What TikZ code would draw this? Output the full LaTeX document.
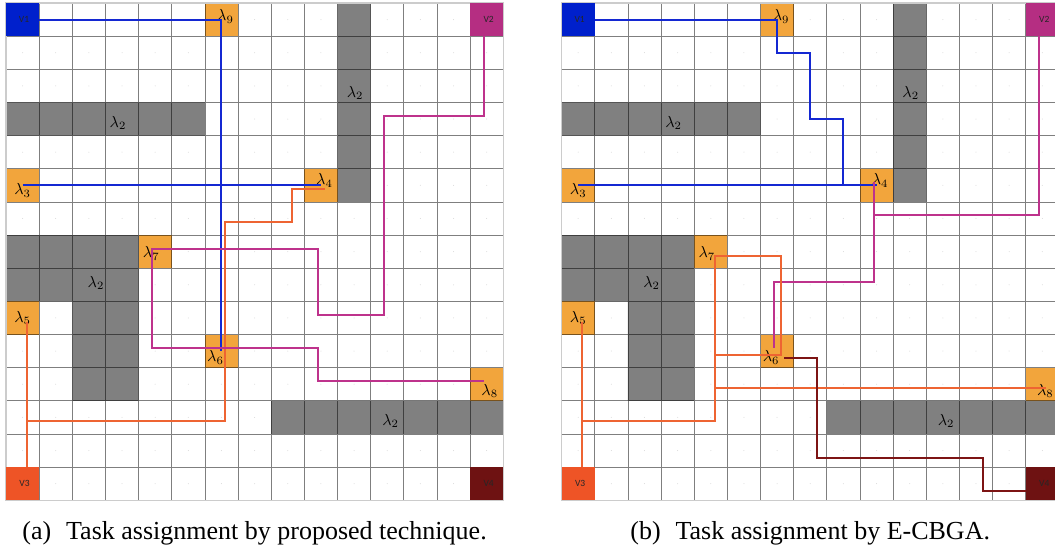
\documentclass[tikz,border=0pt]{standalone}
\usepackage{fontspec}
\newfontfamily\capfont{Liberation Serif}
\newfontfamily\vfont{Carlito}
\pgfdeclarelayer{back}
\pgfdeclarelayer{front}
\pgfsetlayers{back,main,front}

\definecolor{obst}{RGB}{128,128,128}
\definecolor{lamc}{RGB}{242,165,60}
\definecolor{vblue}{RGB}{0,32,204}
\definecolor{vmag}{RGB}{181,46,130}
\definecolor{vorg}{RGB}{238,84,38}
\definecolor{vdred}{RGB}{110,18,18}
\definecolor{pblue}{RGB}{20,40,210}
\definecolor{pmag}{RGB}{190,50,140}
\definecolor{porg}{RGB}{238,100,50}
\definecolor{pdred}{RGB}{125,20,20}

\newcommand\lam[1]{\scalebox{1.6}{$\lambda_{#1}$}}

\tikzset{
 obstacle/.style={fill=obst},
 gridline/.style={draw=black, draw opacity=0.5, line width=0.8pt},
 frameline/.style={draw=gray!40, line width=1.4pt},
 celldot/.style={fill=gray!30},
 lamcell/.style={fill=lamc, minimum size=33.15pt, inner sep=0pt, outer sep=0pt},
 vcell/.style={minimum size=33.15pt, inner sep=0pt, outer sep=0pt, font=\vfont\fontsize{9.5}{11}\selectfont, text=black!85},
 lamtext/.style={inner sep=0pt},
 route/.style={line width=2pt, line join=miter},
 bluepath/.style={route, draw=pblue},
 magpath/.style={route, draw=pmag, transform canvas={shift={(-3pt,3pt)}}},
 orgpath/.style={route, draw=porg, transform canvas={shift={(4pt,-4pt)}}},
 redpath/.style={route, draw=pdred, transform canvas={shift={(7pt,-7pt)}}},
 captext/.style={font=\capfont\fontsize{26}{30}\selectfont, anchor=base, inner sep=0pt},
 panelA/.style={shift={(6pt,-3pt)}, x=33.15pt, y=-33.15pt},
 panelB/.style={shift={(561.6pt,-3pt)}, x=33.15pt, y=-33.15pt},
}

\newcommand\basepanel[1]{%
  \fill[celldot] foreach \i in {0,...,14} {foreach \j in {0,...,14} {(\i+.5,\j+.5) circle (0.5pt)}};
  \fill[obstacle] (0,3) rectangle (6,4) (10,0) rectangle (11,6) (0,7) rectangle (4,9)
                  (2,9) rectangle (4,12) (8,12) rectangle (15,13);
  \node[lamcell] (#1L9) at (6.5,0.5) {};
  \node[lamcell] (#1L3) at (0.5,5.5) {};
  \node[lamcell] (#1L4) at (9.5,5.5) {};
  \node[lamcell] (#1L7) at (4.5,7.5) {};
  \node[lamcell] (#1L5) at (0.5,9.5) {};
  \node[lamcell] (#1L6) at (6.5,10.5) {};
  \node[lamcell] (#1L8) at (14.5,11.5) {};
  \draw[gridline] foreach \k in {0,...,15} {(\k,0) -- (\k,15) (0,\k) -- (15,\k)};
  \draw[frameline] (0,0) rectangle (15,15);
  \foreach \i in {0,...,14} {\foreach \j in {0,...,14} {\coordinate (#1-\i-\j) at (\i+.5,\j+.5);}}
  \node[lamtext, xshift=4pt, yshift=3pt] (#1T9) at (6.5,0.5) {\lam{9}};
  \node[lamtext, yshift=-5pt] (#1T3) at (0.5,5.5) {\lam{3}};
  \node[lamtext, xshift=3.5pt, yshift=5pt] (#1T4) at (9.5,5.5) {\lam{4}};
  \node[lamtext, xshift=-4pt, yshift=-2pt] (#1T7) at (4.5,7.5) {\lam{7}};
  \node[lamtext] (#1T5) at (0.5,9.5) {\lam{5}};
  \node[lamtext, xshift=-6pt, yshift=-6.5pt] (#1T6) at (6.5,10.5) {\lam{6}};
  \node[lamtext, xshift=3pt, yshift=-7pt] (#1T8) at (14.5,11.5) {\lam{8}};
  \node[lamtext] (#1O1) at (3.378,3.62) {\lam{2}};
  \node[lamtext] (#1O2) at (10.53,2.706) {\lam{2}};
  \node[lamtext] (#1O3) at (2.715,8.446) {\lam{2}};
  \node[lamtext] (#1O4) at (11.6,12.61) {\lam{2}};
}

\newcommand\vpanel[1]{%
  \node[vcell, fill=vblue] (#1V1) at (0.5,0.5) {\hspace*{3pt}V1};
  \node[vcell, fill=vmag] (#1V2) at (14.5,0.5) {\hspace*{4pt}V2};
  \node[vcell, fill=vorg] (#1V3) at (0.5,14.5) {\hspace*{4pt}V3};
  \node[vcell, fill=vdred] (#1V4) at (14.5,14.5) {\hspace*{4pt}V4};
}

\begin{document}
\begin{tikzpicture}
\useasboundingbox (0,0) rectangle (1055pt,-552pt);

\begin{pgfonlayer}{back}
  \fill[white] (0,0) rectangle (1055pt,-552pt);
  \begin{scope}[panelA] \basepanel{a} \end{scope}
  \begin{scope}[panelB] \basepanel{b} \end{scope}
\end{pgfonlayer}
\begin{pgfonlayer}{front}
  \begin{scope}[panelA] \vpanel{a} \end{scope}
  \begin{scope}[panelB] \vpanel{b} \end{scope}
\end{pgfonlayer}

% panel (a) routes
\draw[bluepath] (aV1.center) -- (aL9.center) -- (aL6.center);
\draw[bluepath] (aL3.center) -- (aL4.center);
\draw[orgpath] (aL4.center) -| (a-8-6) -| (a-6-12) -- (a-0-12) (aL5.center) -- (aV3.center);
\draw[magpath] (aV2.center) |- (a-11-3) |- (a-9-9) -- (a-9-7) -- (aL7.center) |- (aL6.center) -- (a-9-10) |- (aL8.center);

% panel (b) routes
\draw[bluepath] (bV1.center) -- (bL9.center) |- (b-7-1) |- (b-8-3) -- (b-8-5);
\draw[bluepath] (bL3.center) -- (bL4.center);
\draw[magpath] (bV2.center) |- (b-9-6) (bL4.center) |- (b-6-8) -- (bL6.center);
\draw[orgpath] (bL5.center) -- (bV3.center) (b-0-12) -| (bL7.center) -| (bL6.center) -- (b-4-10) (b-4-11) -- (bL8.center);
\draw[redpath] (bL6.center) -| (b-7-13) -| (b-12-14) -- (bV4.center);

\node[captext] (capa) at (254.6pt,-539pt) {(a)\hspace{0.57em}Task assignment by proposed technique.};
\node[captext] (capb) at (810.2pt,-539pt) {(b)\hspace{0.57em}Task assignment by E-CBGA.};
\end{tikzpicture}
\end{document}
